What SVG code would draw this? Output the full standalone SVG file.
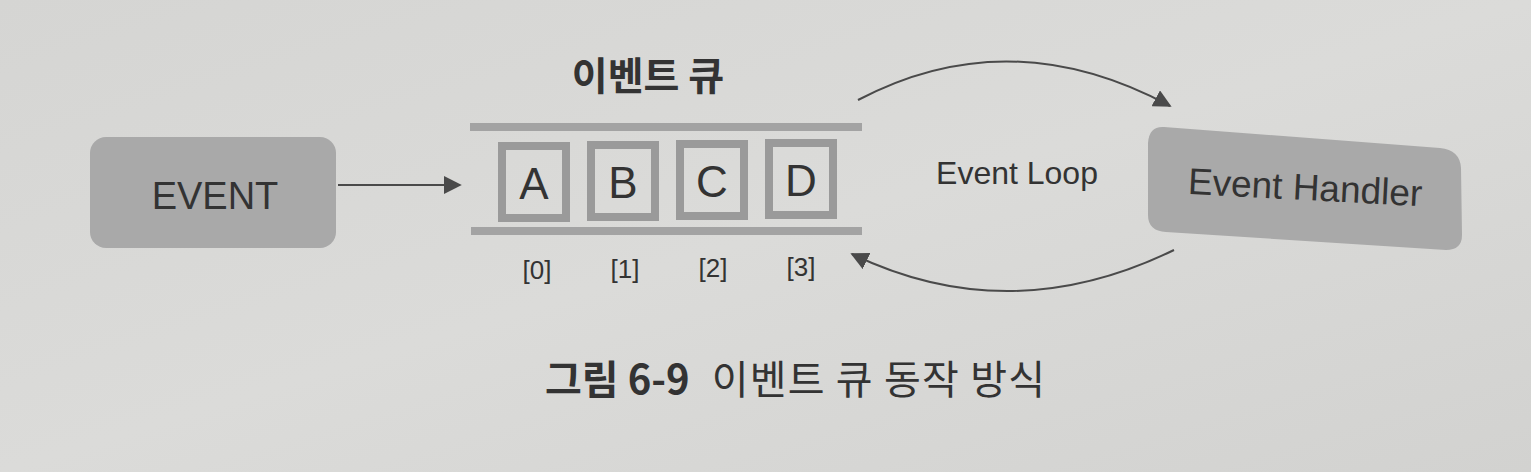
<svg xmlns="http://www.w3.org/2000/svg" width="1531" height="472" viewBox="0 0 1531 472">
<defs>
<linearGradient id="bg" x1="0" y1="0" x2="1" y2="1">
<stop offset="0" stop-color="#d5d5d3"/>
<stop offset="0.5" stop-color="#dbdbd9"/>
<stop offset="1" stop-color="#d2d2d0"/>
</linearGradient>
<marker id="ah" viewBox="0 0 10 10" refX="9" refY="5" markerWidth="18" markerHeight="18" markerUnits="userSpaceOnUse" orient="auto">
<path d="M0,0 L10,5 L0,10 z" fill="#4a4a4a"/>
</marker>
<style>
.t{font-family:"Liberation Sans","Noto Sans CJK KR",sans-serif;fill:#333;}
.k{font-family:"Noto Sans CJK KR",sans-serif;fill:#333;}
.cell{fill:none;stroke:#9a9a9a;stroke-width:8;}
.bar{stroke:#a3a3a3;stroke-width:8;}
.node{fill:#a9a9a9;}
.conn{fill:none;stroke:#4a4a4a;stroke-width:2;}
</style>
</defs>
<rect width="1531" height="472" fill="url(#bg)"/>

<g id="event">
<rect class="node" x="90" y="137" width="246" height="111" rx="16"/>
<text class="t" x="215" y="209" font-size="38" text-anchor="middle">EVENT</text>
</g>

<g id="queue">
<text class="k" x="648" y="90" font-size="39" font-weight="bold" text-anchor="middle">이벤트 큐</text>
<line class="bar" x1="470" y1="127" x2="862" y2="127"/>
<line class="bar" x1="471" y1="231" x2="862" y2="231"/>
<rect class="cell" x="502" y="146" width="64" height="72"/>
<rect class="cell" x="591" y="145" width="64" height="72"/>
<rect class="cell" x="680" y="144" width="64" height="72"/>
<rect class="cell" x="769" y="143" width="64" height="72"/>
<text class="t" x="534" y="199" font-size="44" text-anchor="middle">A</text>
<text class="t" x="623" y="198" font-size="44" text-anchor="middle">B</text>
<text class="t" x="712" y="197" font-size="44" text-anchor="middle">C</text>
<text class="t" x="801" y="196" font-size="44" text-anchor="middle">D</text>
<text class="t" x="537" y="279" font-size="26" text-anchor="middle">[0]</text>
<text class="t" x="625" y="278" font-size="26" text-anchor="middle">[1]</text>
<text class="t" x="713" y="277" font-size="26" text-anchor="middle">[2]</text>
<text class="t" x="801" y="276" font-size="26" text-anchor="middle">[3]</text>
</g>

<g id="event-loop">
<text class="t" x="1017" y="184" font-size="32" text-anchor="middle">Event Loop</text>
</g>

<g id="event-handler">
<path class="node" d="M1164,127 L1440,148 Q1460,150 1461,168 L1462,235 Q1462,250 1446,250 L1166,232 Q1148,231 1148,215 L1148,143 Q1149,126 1164,127 Z"/>
<text class="t" x="1305" y="200" font-size="37" text-anchor="middle" transform="rotate(3 1305 190)">Event Handler</text>
</g>

<g id="connectors">
<line class="conn" x1="338" y1="185" x2="460" y2="185" marker-end="url(#ah)"/>
<path class="conn" d="M858,100 Q1010,20 1170,106" marker-end="url(#ah)"/>
<path class="conn" d="M1174,250 Q1010,330 852,254" marker-end="url(#ah)"/>
</g>

<g id="caption">
<text x="545" y="394" font-size="40"><tspan class="k" font-weight="bold">그림 6-9</tspan><tspan class="k" dx="22" letter-spacing="1.2">이벤트 큐 동작 방식</tspan></text>
</g>
</svg>
